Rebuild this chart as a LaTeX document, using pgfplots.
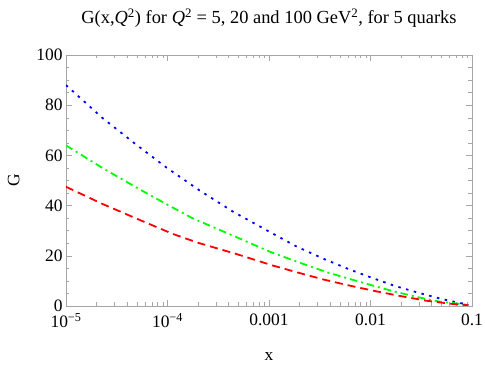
\documentclass[border=0pt]{standalone}
\usepackage{pgfplots}
\pgfplotsset{compat=1.18}
\usepackage{fontspec}
\setmainfont{Liberation Serif}

\pgfplotstableread{
x          G
1e-5       88.0
2.275e-5   75.0
4.634e-5   65.1
9.727e-5   55.2
2.042e-4   46.2
4.416e-4   37.6
9.772e-4   29.9
1.888e-3   23.6
3.548e-3   18.6
6.166e-3   14.6
1.023e-2   11.3
1.738e-2    8.0
2.951e-2    5.3
5.012e-2    2.8
8.650e-2    0.7
9.200e-2    0.4
}\qhundred

\pgfplotstableread{
x          G
1e-5       64.0
2.307e-5   54.9
5.309e-5   46.5
9.727e-5   40.6
1.778e-4   34.9
4.266e-4   28.3
1.023e-3   21.6
1.995e-3   17.3
3.819e-3   13.3
6.457e-3   10.6
1.062e-2    8.1
1.738e-2    5.7
2.951e-2    3.5
4.819e-2    1.7
8.185e-2    0.7
9.200e-2    0.3
}\qtwenty

\pgfplotstableread{
x          G
1e-5       47.5
2.307e-5   40.6
5.309e-5   34.3
1.130e-4   28.7
1.995e-4   25.2
4.786e-4   20.7
1.096e-3   16.1
1.932e-3   13.3
3.412e-3   10.6
5.794e-3    8.4
1.062e-2    6.1
1.950e-2    4.0
3.565e-2    2.1
6.457e-2    0.8
9.200e-2    0.3
}\qfive

\begin{document}
\begin{tikzpicture}
\begin{axis}[
    scale only axis,
    width=406bp, height=251bp,
    xmode=log,
    xmin=1e-5, xmax=0.1,
    ymin=0, ymax=100,
    axis line style={gray!70},
    every tick/.style={gray!70},
    tick align=inside,
    major tick length=6bp,
    minor tick length=3.5bp,
    xtick={1e-5,1e-4,1e-3,1e-2,1e-1},
    xticklabels={10\textsuperscript{−5},10\textsuperscript{−4},0.001,0.01,0.1},
    ytick={0,20,40,60,80,100},
    minor y tick num=3,
    /pgf/number format/assume math mode=true,
    tick label style={font=\fontsize{17.5}{20}\selectfont},
    xticklabel style={yshift=-4bp},
    log ticks with fixed point,
    xlabel={x},
    ylabel={G},
    label style={font=\fontsize{17.5}{20}\selectfont},
    xlabel style={yshift=-18bp},
    ylabel style={yshift=10bp},
    title={G(x,\textit{Q}\textsuperscript{2}) for \textit{Q}\textsuperscript{2} = 5, 20 and 100 GeV\textsuperscript{2}, for 5 quarks},
    title style={font=\fontsize{18.5}{20}\selectfont, yshift=18bp},
    clip=true,
]
\addplot[blue, line width=1.8bp, dash pattern=on 2.5bp off 5.5bp] table[x=x,y=G] {\qhundred};
\addplot[green, line width=1.8bp, dash pattern=on 7.5bp off 4bp on 2bp off 4bp] table[x=x,y=G] {\qtwenty};
\addplot[red, line width=1.8bp, dash pattern=on 8bp off 5bp] table[x=x,y=G] {\qfive};
\end{axis}
\pgfresetboundingbox
\path ([xshift=-66bp,yshift=-62bp]current axis.south west) rectangle ([xshift=13bp,yshift=55bp]current axis.north east);
\end{tikzpicture}
\end{document}
